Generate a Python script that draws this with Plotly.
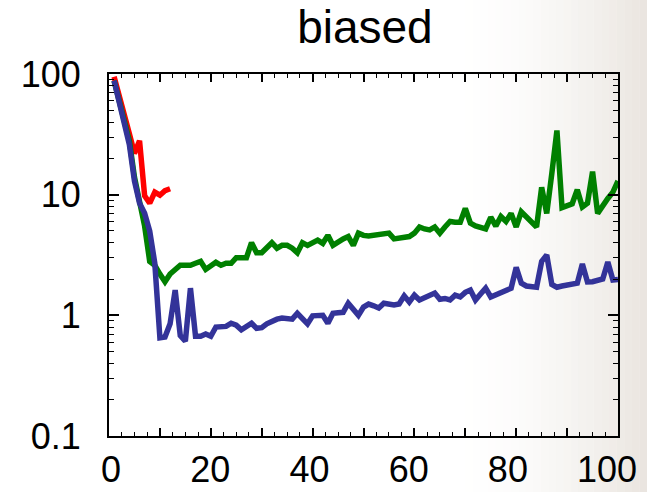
import plotly.graph_objects as go

title_text = "biased"

red_x = list(range(1, 13))
red_y = [95, 68, 48, 32, 22, 28, 9.8, 8.5, 10.5, 9.9, 10.8, 11.2]

x_all = list(range(1, 101))
green_y = [88, 62, 42, 28, 14, 8.5, 5.5, 2.8, 2.6, 2.2,
           1.9, 2.2, 2.4, 2.6, 2.6, 2.6, 2.7, 2.8, 2.4, 2.6,
           2.75, 2.6, 2.7, 2.7, 3.0, 3.0, 3.0, 4.0, 3.3, 3.3,
           3.6, 4.0, 3.6, 3.8, 3.8, 3.6, 3.3, 4.0, 3.8, 4.05,
           4.2, 3.95, 4.6, 3.8, 4.1, 4.3, 4.5, 3.8, 4.8, 4.6,
           4.55, 4.6, 4.6, 4.7, 4.8, 4.3, 4.35, 4.4, 4.5, 4.8,
           5.4, 5.2, 5.1, 5.4, 4.8, 5.4, 6.0, 5.9, 5.9, 7.7,
           5.8, 5.5, 5.3, 5.2, 6.5, 5.5, 6.6, 6.0, 7.0, 5.4,
           7.2, 6.5, 6.0, 5.4, 11.5, 7.0, 15, 34, 7.8, 8.2,
           8.4, 11, 7.9, 8.5, 15.5, 7.0, 8.2, 9.3, 10.5, 13]
blue_y = [88, 60, 40, 26, 13, 8.5, 7.0, 5.0, 2.7, 0.65,
          0.66, 0.85, 1.62, 0.68, 0.61, 1.68, 0.67, 0.67, 0.7, 0.67,
          0.8, 0.8, 0.81, 0.86, 0.83, 0.76, 0.82, 0.86, 0.78, 0.79,
          0.85, 0.9, 0.93, 0.95, 0.94, 0.93, 1.04, 0.95, 0.85, 0.99,
          1.0, 1.0, 0.86, 1.04, 1.05, 1.06, 1.26, 1.1, 1.0, 1.17,
          1.24, 1.2, 1.15, 1.26, 1.24, 1.22, 1.24, 1.45, 1.29, 1.47,
          1.34, 1.4, 1.5, 1.53, 1.36, 1.38, 1.34, 1.47, 1.42, 1.55,
          1.62, 1.34, 1.5, 1.68, 1.42, 1.48, 1.53, 1.6, 1.68, 2.5,
          1.85, 1.75, 1.71, 1.71, 2.8, 3.16, 1.8, 1.71, 1.75, 1.78,
          1.8, 1.85, 2.66, 1.89, 1.9, 1.96, 2.0, 2.77, 1.96, 1.98]

x_tickvals = [0, 10, 20, 30, 40, 50, 60, 70, 80, 90, 100]
x_minor = [v + k * 2.5 for v in range(0, 100, 10) for k in (1, 2, 3)]
x_label_vals = [0, 20, 40, 60, 80, 100]
x_label_text = ["0", "20", "40", "60", "80", "100"]
y_tickvals = [0.1, 1, 10, 100]
y_ticktext = ["0.1", "1", "10", "100"]
y_minor = [m * d for d in (0.1, 1, 10) for m in range(2, 10)]

fig = go.Figure()
fig.add_trace(go.Scatter(x=red_x, y=red_y, mode="lines",
                         line=dict(color="#ff0000", width=5.5)))
fig.add_trace(go.Scatter(x=x_all, y=green_y, mode="lines",
                         line=dict(color="#008000", width=5.5)))
fig.add_trace(go.Scatter(x=x_all, y=blue_y, mode="lines",
                         line=dict(color="#333399", width=5.5)))
# helper trace so the label axis is drawn
fig.add_trace(go.Scatter(x=[None], y=[None], xaxis="x2", yaxis="y",
                         showlegend=False, hoverinfo="skip"))

# textured background fade on the right side (page px -> paper coords)
L, W, T, H = 109, 509, 74, 362
n = 26
for i in range(n):
    px0 = 450 + i * (647 - 450) / n
    px1 = 450 + (i + 1) * (647 - 450) / n
    op = ((i + 0.5) / n) ** 1.8 * 0.45
    fig.add_shape(type="rect", xref="paper", yref="paper",
                  x0=(px0 - L) / W, x1=(px1 - L) / W,
                  y0=(T + H - 500) / H, y1=(T + H + 10) / H,
                  fillcolor="#cfc4b8", opacity=op, line_width=0, layer="below")

fig.update_layout(
    width=647, height=492,
    margin=dict(l=109, r=29, t=74, b=56),
    paper_bgcolor="white", plot_bgcolor="rgba(0,0,0,0)",
    showlegend=False,
    font=dict(family="Liberation Sans, Arial", color="black"),
    title=dict(text=title_text, x=0.564, xanchor="center", y=0.946, yanchor="middle",
               font=dict(size=46, color="black")),
    xaxis=dict(range=[0, 100], tickmode="array", tickvals=x_tickvals,
               showticklabels=False, automargin=False,
               ticks="inside", ticklen=8, tickwidth=1.5, tickcolor="black",
               showline=True, linecolor="black", linewidth=2, mirror="ticks",
               showgrid=False, zeroline=False,
               minor=dict(tickmode="array", tickvals=x_minor,
                          ticks="inside", ticklen=4, tickwidth=1.2, tickcolor="black")),
    xaxis2=dict(overlaying="x", side="bottom", anchor="y", range=[-0.4, 102.2],
                tickmode="array", tickvals=x_label_vals, ticktext=x_label_text,
                ticks="", showline=False, showgrid=False, zeroline=False,
                tickfont=dict(size=36), automargin=False, ticklabeloverflow="allow",
                ticklabelstandoff=9),
    yaxis=dict(type="log", range=[-1, 2], tickmode="array", tickvals=y_tickvals, ticktext=y_ticktext,
               ticks="inside", ticklen=10, tickwidth=1.5, tickcolor="black", automargin=False,
               showline=True, linecolor="black", linewidth=2, mirror="ticks",
               showgrid=False, zeroline=False, tickfont=dict(size=36), ticklabelstandoff=19,
               minor=dict(tickmode="array", tickvals=y_minor,
                          ticks="inside", ticklen=5, tickwidth=1.2, tickcolor="black")),
)

fig.write_html("out.html", config={"displayModeBar": False},
               post_script="document.body.style.margin='0px';")
